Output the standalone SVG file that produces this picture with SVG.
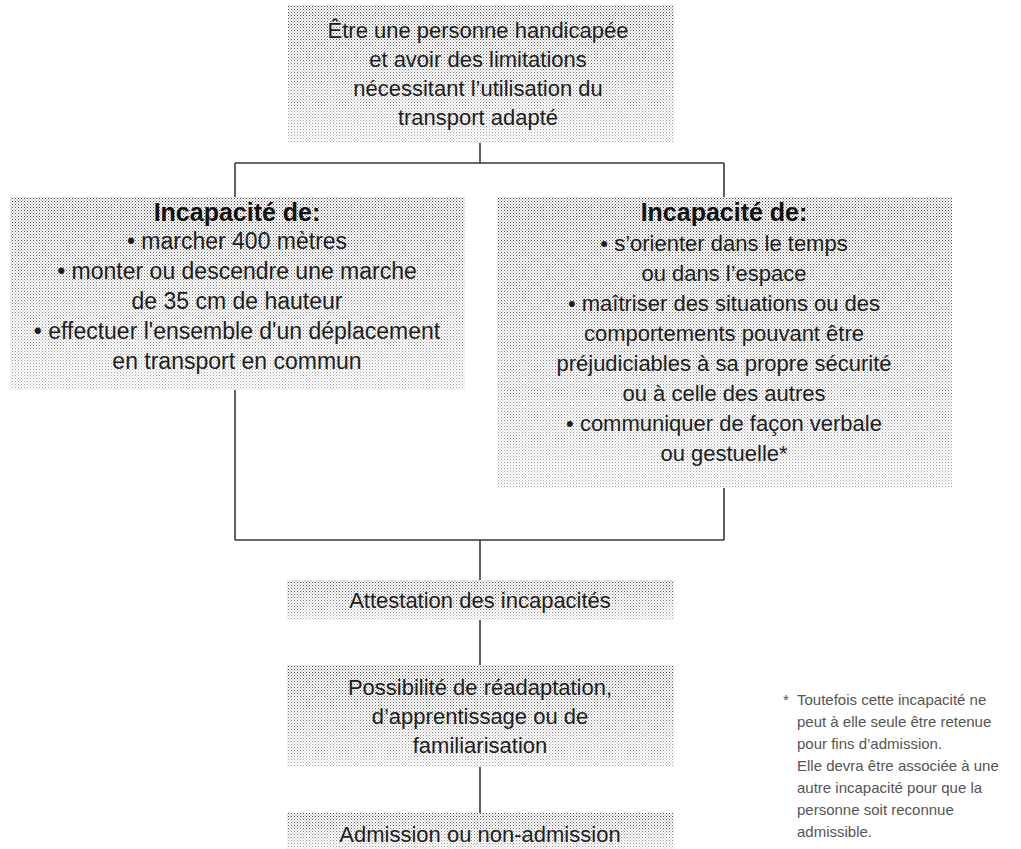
<svg xmlns="http://www.w3.org/2000/svg" width="1021" height="849" viewBox="0 0 1021 849">
  <defs>
    <pattern id="dots" width="3" height="3" patternUnits="userSpaceOnUse">
      <rect width="3" height="3" fill="#ffffff"/>
      <rect x="0" y="0" width="1" height="1" fill="#444444"/>
      <rect x="1.5" y="1.5" width="1" height="1" fill="#6a6a6a"/>
    </pattern>
    <linearGradient id="fade" x1="0" y1="0" x2="0" y2="1">
      <stop offset="0" stop-color="#ffffff" stop-opacity="0"/>
      <stop offset="1" stop-color="#ffffff" stop-opacity="0.55"/>
    </linearGradient>
  </defs>
  <style>
    .box { fill: url(#dots); }
    .fade { fill: url(#fade); }
    .t { font-family: "Liberation Sans", Arial, sans-serif; font-size: 22px; fill: #1e1e1e; text-anchor: middle; }
    .l { font-size: 23px; }
    .b { font-family: "Liberation Sans", Arial, sans-serif; font-size: 25px; font-weight: bold; fill: #111; text-anchor: middle; }
    .note { font-family: "Liberation Sans", Arial, sans-serif; font-size: 15px; fill: #555; }
    .c { fill: none; stroke: #3a3a3a; stroke-width: 1.6; }
  </style>
  <rect width="1021" height="849" fill="#ffffff"/>

  <g id="connectors">
    <path class="c" d="M480 143 V163 M235 163 H724 M235 163 V197 M724 163 V197"/>
    <path class="c" d="M235 390 V540 M724 488 V540 M235 540 H724 M480 540 V580"/>
    <path class="c" d="M480 620 V665 M480 767 V813"/>
  </g>

  <g id="node-top">
    <rect class="box" x="288" y="5" width="386" height="138"/>
    <rect class="fade" x="288" y="5" width="386" height="138"/>
    <text class="t" x="478" y="38">Être une personne handicapée</text>
    <text class="t" x="478" y="67">et avoir des limitations</text>
    <text class="t" x="478" y="96">nécessitant l’utilisation du</text>
    <text class="t" x="478" y="125">transport adapté</text>
  </g>

  <g id="node-left">
    <rect class="box" x="10" y="197" width="455" height="193"/>
    <rect class="fade" x="10" y="197" width="455" height="193"/>
    <text class="b" x="237" y="221">Incapacité de:</text>
    <text class="t l" x="237" y="249">• marcher 400 mètres</text>
    <text class="t l" x="237" y="279">• monter ou descendre une marche</text>
    <text class="t l" x="237" y="309">de 35 cm de hauteur</text>
    <text class="t l" x="237" y="339">• effectuer l'ensemble d'un déplacement</text>
    <text class="t l" x="237" y="369">en transport en commun</text>
  </g>

  <g id="node-right">
    <rect class="box" x="497" y="197" width="455" height="291"/>
    <rect class="fade" x="497" y="197" width="455" height="291"/>
    <text class="b" x="724" y="221">Incapacité de:</text>
    <text class="t" x="724" y="251">• s’orienter dans le temps</text>
    <text class="t" x="724" y="281">ou dans l’espace</text>
    <text class="t" x="724" y="311">• maîtriser des situations ou des</text>
    <text class="t" x="724" y="341">comportements pouvant être</text>
    <text class="t" x="724" y="371">préjudiciables à sa propre sécurité</text>
    <text class="t" x="724" y="401">ou à celle des autres</text>
    <text class="t" x="724" y="431">• communiquer de façon verbale</text>
    <text class="t" x="724" y="461">ou gestuelle*</text>
  </g>

  <g id="node-attestation">
    <rect class="box" x="287" y="580" width="387" height="40"/>
    <rect class="fade" x="287" y="580" width="387" height="40"/>
    <text class="t" x="480" y="608">Attestation des incapacités</text>
  </g>

  <g id="node-possibilite">
    <rect class="box" x="287" y="665" width="387" height="102"/>
    <rect class="fade" x="287" y="665" width="387" height="102"/>
    <text class="t" x="480" y="695">Possibilité de réadaptation,</text>
    <text class="t" x="480" y="724">d’apprentissage ou de</text>
    <text class="t" x="480" y="753">familiarisation</text>
  </g>

  <g id="node-admission">
    <rect class="box" x="287" y="813" width="387" height="36"/>
    <rect class="fade" x="287" y="813" width="387" height="36"/>
    <text class="t" x="480" y="842">Admission ou non-admission</text>
  </g>

  <g id="footnote">
    <text class="note" x="783" y="705">*</text>
    <text class="note" x="797" y="705">Toutefois cette incapacité ne</text>
    <text class="note" x="797" y="727">peut à elle seule être retenue</text>
    <text class="note" x="797" y="749">pour fins d’admission.</text>
    <text class="note" x="797" y="771">Elle devra être associée à une</text>
    <text class="note" x="797" y="793">autre incapacité pour que la</text>
    <text class="note" x="797" y="815">personne soit reconnue</text>
    <text class="note" x="797" y="837">admissible.</text>
  </g>
</svg>
